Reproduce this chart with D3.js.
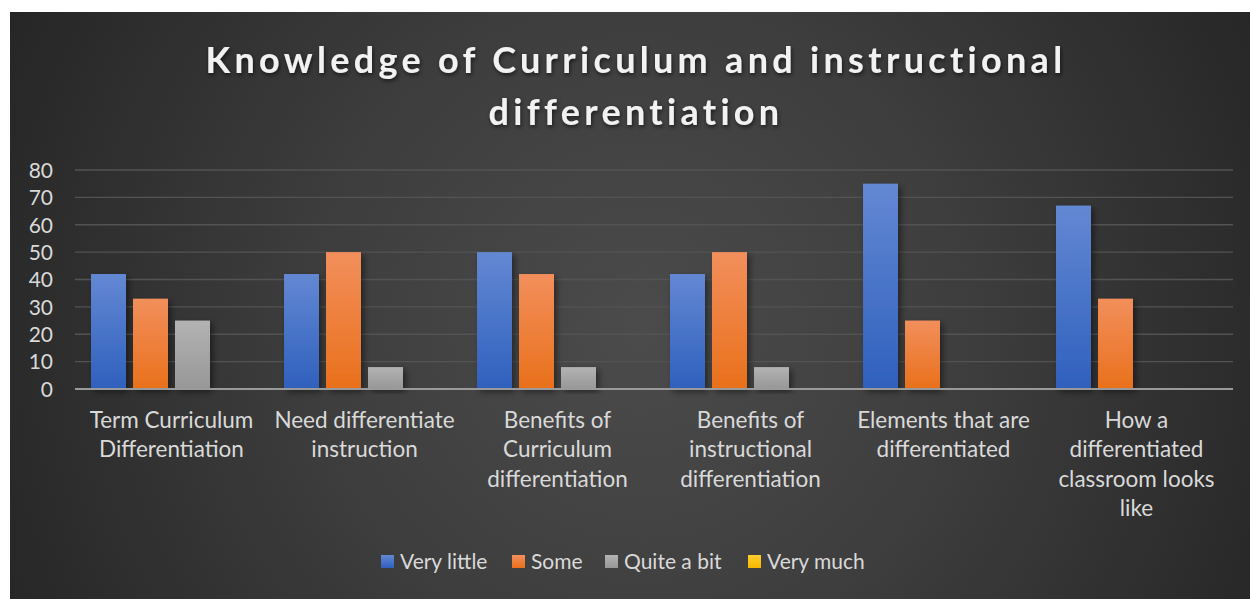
<!DOCTYPE html>
<html><head><meta charset="utf-8">
<script src="https://cdn.jsdelivr.net/npm/d3@7"></script>
<style>html,body{margin:0;padding:0;background:#fff;overflow:hidden}</style>
</head><body>
<script>
const categories = [
  "Term Curriculum\nDifferentiation",
  "Need differentiate\ninstruction",
  "Benefits of\nCurriculum\ndifferentiation",
  "Benefits of\ninstructional\ndifferentiation",
  "Elements that are\ndifferentiated",
  "How a\ndifferentiated\nclassroom looks\nlike"
];
const seriesNames = ["Very little", "Some", "Quite a bit", "Very much"];
const veryLittle = [42, 42, 50, 42, 75, 67];
const some       = [33, 50, 42, 50, 25, 33];
const quiteABit  = [25, 8, 8, 8, 0, 0];
const veryMuch   = [0, 0, 0, 0, 0, 0];
const yTicks = [0, 10, 20, 30, 40, 50, 60, 70, 80];
const titleLines = ["Knowledge of Curriculum and instructional", "differentiation"];

const W = 1250, H = 599;
const svg = d3.select("body").append("svg").attr("width", W).attr("height", H);
const defs = svg.append("defs");

const bg = defs.append("radialGradient").attr("id","bg").attr("gradientUnits","userSpaceOnUse")
  .attr("cx", 640).attr("cy", 330).attr("r", 700);
bg.append("stop").attr("offset","0%").attr("stop-color","#4b4b4b");
bg.append("stop").attr("offset","45%").attr("stop-color","#3e3e3e");
bg.append("stop").attr("offset","100%").attr("stop-color","#262626");

const colors = [["#6388d3","#2f60bd"],["#f28f5c","#e9701b"],["#b3b3b3","#979797"],["#ffce2e","#f5b800"]];
colors.forEach((c,i)=>{
  const g = defs.append("linearGradient").attr("id","g"+i).attr("x1",0).attr("y1",0).attr("x2",0).attr("y2",1);
  g.append("stop").attr("offset","0%").attr("stop-color",c[0]);
  g.append("stop").attr("offset","100%").attr("stop-color",c[1]);
});
const f = defs.append("filter").attr("id","sh").attr("x","-20%").attr("y","-10%").attr("width","150%").attr("height","130%");
f.append("feDropShadow").attr("dx",3).attr("dy",3).attr("stdDeviation",3).attr("flood-color","#000").attr("flood-opacity",0.45);

const tf = defs.append("filter").attr("id","tsh").attr("x","-5%").attr("y","-20%").attr("width","110%").attr("height","150%");
tf.append("feDropShadow").attr("dx",1).attr("dy",2).attr("stdDeviation",2).attr("flood-color","#000").attr("flood-opacity",0.6);

svg.append("rect").attr("x",10).attr("y",12).attr("width",W-10).attr("height",H-12).attr("fill","url(#bg)");

const plot = {l:75, r:1233, t:170, b:389};
const y = d3.scaleLinear().domain([0,80]).range([plot.b, plot.t]);
const x0 = d3.scaleBand().domain(d3.range(categories.length)).range([plot.l, plot.r]).paddingInner(0.166).paddingOuter(0.083);
const x1 = d3.scaleBand().domain(d3.range(4)).range([0, x0.bandwidth()]).paddingInner(0.167);

// grid
svg.append("g").selectAll("line").data(yTicks.slice(1)).join("line")
  .attr("x1",plot.l).attr("x2",plot.r).attr("y1",d=>y(d)).attr("y2",d=>y(d))
  .attr("stroke","#535353").attr("stroke-width",1.3);

// y axis labels
const yAxis = d3.axisLeft(y).tickValues(yTicks).tickSize(0).tickPadding(0);
const ya = svg.append("g").attr("transform",`translate(53,0)`).call(yAxis);
ya.select(".domain").remove();
ya.selectAll("text").attr("fill","#d9d9d9").attr("font-family","Lato, 'Open Sans', sans-serif").attr("font-size",21).attr("dy","0.35em");

// bars
const series = [veryLittle, some, quiteABit, veryMuch];
const rows = [];
categories.forEach((c,i)=>series.forEach((s,j)=>{ if (s[i] > 0) rows.push({i,j,v:s[i]}); }));
svg.append("g").selectAll("rect").data(rows).join("rect")
  .attr("x",d=>x0(d.i)+x1(d.j)).attr("width",x1.bandwidth())
  .attr("y",d=>y(d.v)).attr("height",d=>y(0)-y(d.v))
  .attr("fill",d=>`url(#g${d.j})`).attr("filter","url(#sh)");

// baseline
svg.append("line").attr("x1",plot.l).attr("x2",plot.r).attr("y1",y(0)).attr("y2",y(0))
  .attr("stroke","#9a9a9a").attr("stroke-width",2);

// x labels
const xl = svg.append("g");
categories.forEach((c,i)=>{
  const t = xl.append("text").attr("text-anchor","middle").attr("fill","#d9d9d9")
    .attr("font-family","Lato, 'Open Sans', sans-serif").attr("font-size",22.5);
  c.split("\n").forEach((ln,k)=>{
    t.append("tspan").attr("x", x0(i)+x0.bandwidth()/2).attr("y", 428 + k*29.3).text(ln);
  });
});

// title
titleLines.forEach((ln,k)=>{
  svg.append("text").attr("x",636).attr("y",73 + k*52).attr("text-anchor","middle")
    .attr("fill","#f2f2f2").attr("font-family","Lato, 'Open Sans', sans-serif").attr("font-weight","bold")
    .attr("font-size",36).attr("letter-spacing","4.3px").attr("filter","url(#tsh)").text(ln);
});

// legend
const legX = [381, 512, 605, 748];
const lg = svg.append("g");
seriesNames.forEach((n,j)=>{
  lg.append("rect").attr("x",legX[j]).attr("y",555).attr("width",13).attr("height",13).attr("fill",`url(#g${j})`);
  lg.append("text").attr("x",legX[j]+19).attr("y",569).attr("fill","#d9d9d9")
    .attr("font-family","Lato, 'Open Sans', sans-serif").attr("font-size",21).text(n);
});
</script>
</body></html>
